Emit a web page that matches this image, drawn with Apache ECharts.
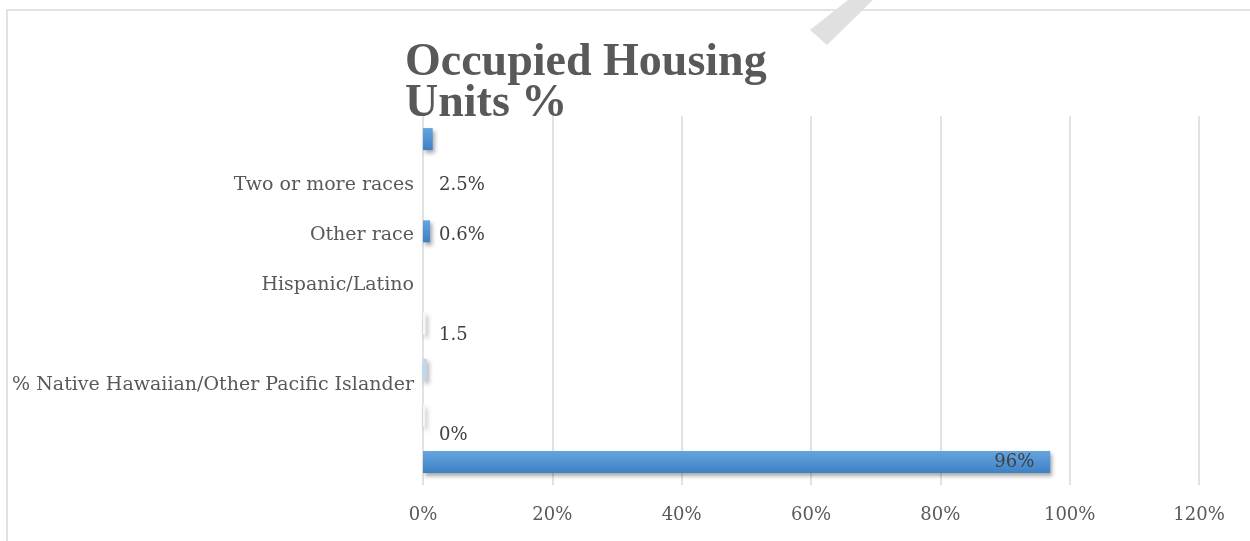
<!DOCTYPE html>
<html>
<head>
<meta charset="utf-8">
<script src="https://cdn.jsdelivr.net/npm/echarts@6/dist/echarts.min.js"></script>
<style>
  html, body { margin: 0; padding: 0; background: #fff; }
  #chart { width: 1250px; height: 541px; }
</style>
</head>
<body>
<div id="chart"></div>
<script>
// bar slots, top to bottom
const categories = ['', 'Two or more races', 'Other race', 'Hispanic/Latino', '', '% Native Hawaiian/Other Pacific Islander', '', '']
const barValues = [1.5, 0, 1.1, 0, 0.4, 0.6, 0.3, 97]
const barLabels = ['', '', '', '', '', '', '', '96%']

// text rows, counted from the bottom of the plot
const rowNames = ['', '', '% Native Hawaiian/Other Pacific Islander', '', 'Hispanic/Latino', 'Other race', 'Two or more races', '']
const rowNotes = ['', '0%', '', '1.5', '', '0.6%', '2.5%', '']

const xTicks = [0, 20, 40, 60, 80, 100, 120]

const font = 'DejaVu Serif'
const blue = new echarts.graphic.LinearGradient(0, 0, 0, 1, [
  { offset: 0, color: '#66a4de' },
  { offset: 1, color: '#3d82c6' }
])
const barColors = [blue, 'transparent', blue, 'transparent', '#f3f7fb', '#bdd7ef', '#f3f7fb', blue]

const chartDom = document.getElementById('chart')
const myChart = echarts.init(chartDom)

function rowLabel (list) {
  return function (value) {
    if (Math.abs(value - Math.round(value)) > 1e-6) return ''
    return list[Math.round(value)] || ''
  }
}

const option = {
  backgroundColor: '#fff',
  animation: false,
  title: {
    text: 'Occupied Housing\nUnits %',
    left: 400,
    top: 38,
    textStyle: {
      fontFamily: 'Liberation Serif',
      fontWeight: 'bold',
      fontSize: 46,
      lineHeight: 41,
      color: '#595959'
    }
  },
  graphic: [
    {
      type: 'rect',
      silent: true,
      shape: { x: 7, y: 10, width: 1300, height: 600 },
      style: { fill: 'none', stroke: '#d9d9d9', lineWidth: 1.5 }
    },
    {
      type: 'polygon',
      silent: true,
      shape: { points: [[848, 0], [873, 0], [827, 45], [810, 30]] },
      style: { fill: '#e0e0e0' }
    }
  ],
  grid: { left: 423, right: 51, top: 116, bottom: 56 },
  xAxis: {
    type: 'value',
    min: xTicks[0],
    max: xTicks[xTicks.length - 1],
    interval: 20,
    axisLine: { show: false },
    axisTick: { show: false },
    splitLine: { lineStyle: { color: '#d9d9d9', width: 1.5 } },
    axisLabel: {
      formatter: '{value}%',
      fontFamily: font,
      fontSize: 18,
      color: '#595959',
      margin: 21
    }
  },
  yAxis: [
    {
      type: 'category',
      inverse: true,
      data: categories,
      axisLine: { show: false },
      axisTick: { show: false },
      axisLabel: { show: false }
    },
    {
      type: 'value',
      position: 'left',
      min: 0,
      max: 369 / 50,
      interval: 1,
      axisLine: { show: false },
      axisTick: { show: false },
      splitLine: { show: false },
      axisLabel: {
        formatter: rowLabel(rowNames),
        fontFamily: font,
        fontSize: 19,
        color: '#595959',
        margin: 9,
        showMaxLabel: false
      }
    },
    {
      type: 'value',
      position: 'left',
      min: 0,
      max: 369 / 50,
      interval: 1,
      axisLine: { show: false },
      axisTick: { show: false },
      splitLine: { show: false },
      axisLabel: {
        inside: true,
        formatter: rowLabel(rowNotes),
        fontFamily: font,
        fontSize: 18,
        color: '#404040',
        margin: 16,
        showMaxLabel: false
      }
    }
  ],
  series: [
    {
      type: 'bar',
      yAxisIndex: 0,
      barWidth: 22,
      data: barValues,
      itemStyle: {
        color: (p) => barColors[p.dataIndex],
        shadowColor: 'rgba(0,0,0,0.35)',
        shadowBlur: 4,
        shadowOffsetX: 2,
        shadowOffsetY: 3
      },
      label: {
        show: true,
        position: 'insideRight',
        distance: 16,
        formatter: (p) => barLabels[p.dataIndex],
        fontFamily: font,
        fontSize: 18,
        color: '#404040'
      }
    }
  ]
}

myChart.setOption(option)
</script>
</body>
</html>
